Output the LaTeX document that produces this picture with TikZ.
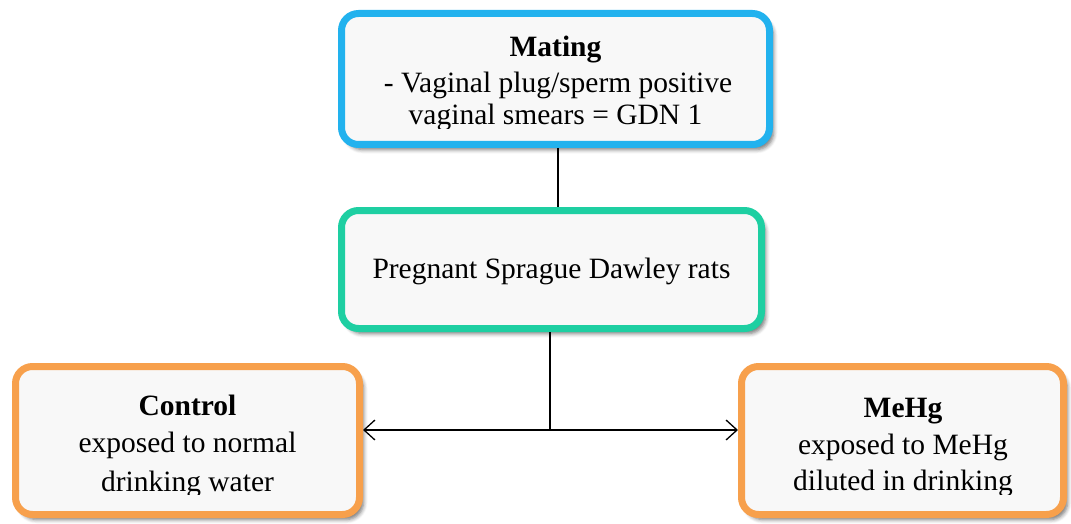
\documentclass[tikz,border=0pt]{standalone}
\usepackage{fontspec}
\setmainfont{Liberation Serif}
\usetikzlibrary{arrows.meta,shadows.blur}
\definecolor{boxfill}{HTML}{F8F8F8}
\definecolor{mblue}{HTML}{22B2EE}
\definecolor{mteal}{HTML}{1ECFA2}
\definecolor{morange}{HTML}{F7A04C}
\tikzset{
  box/.style={draw=#1, line width=7pt, fill=boxfill, rounded corners=17pt, inner sep=0pt,
    blur shadow={shadow xshift=4pt, shadow yshift=-5pt, shadow blur steps=5, shadow opacity=55, shadow blur radius=4pt}},
  txt/.style={font=\fontsize{29.5}{35}\selectfont, anchor=base, inner sep=0pt},
  conn/.style={line width=1.3pt, draw=black},
}
\begin{document}
\begin{tikzpicture}[x=1pt,y=-1pt]
\useasboundingbox (0,0) rectangle (1071,524);
% boxes
\node[box=mblue, minimum width=428pt, minimum height=131pt] (mating) at (555.5,79) {};
\node[box=mteal, minimum width=420pt, minimum height=118pt] (preg) at (551.5,269.5) {};
\node[box=morange, minimum width=344pt, minimum height=148pt] (control) at (187.5,440.5) {};
\node[box=morange, minimum width=322pt, minimum height=148pt] (mehg) at (902.5,440.5) {};
% texts
\begin{scope}
\clip (342,15) rectangle (768,129);
\node[txt] (m1) at (555.5,57) {\textbf{Mating}};
\node[txt] (m2) at (558,93) {- Vaginal plug/sperm positive};
\node[txt] (m3) at (555.5,125) {vaginal smears = GDN 1};
\end{scope}
\node[txt] (p1) at (551.5,278) {Pregnant Sprague Dawley rats};
\begin{scope}
\clip (16,366) rectangle (359,494);
\node[txt] (c1) at (187.5,415) {\textbf{Control}};
\node[txt] (c2) at (187.5,452) {exposed to normal};
\node[txt] (c3) at (187.5,491) {drinking water};
\end{scope}
\begin{scope}
\clip (742,366) rectangle (1063,494);
\node[txt] (h1) at (903,417) {\textbf{MeHg}};
\node[txt] (h2) at (903,454) {exposed to MeHg};
\node[txt] (h3) at (903,490) {diluted in drinking};
\end{scope}
% connectors
\coordinate (cx) at (558,0);
\coordinate (split) at (550,430);
\draw[conn] (mating.south -| cx) -- (preg.north -| cx);
\draw[conn] (preg.south -| split) -- (split);
\draw[conn, {Straight Barb[length=11pt,width=20pt]}-{Straight Barb[length=11pt,width=20pt]}] (control.east |- split) -- (mehg.west |- split);
\end{tikzpicture}
\end{document}
